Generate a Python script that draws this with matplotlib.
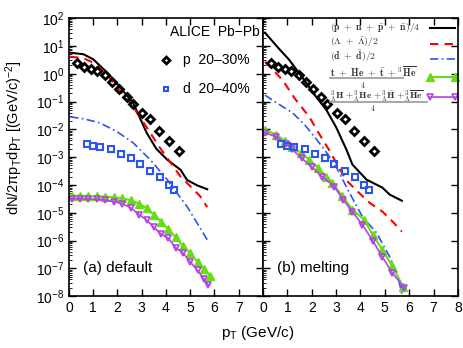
import numpy as np
import matplotlib
matplotlib.use('Agg')
import matplotlib.pyplot as plt
from matplotlib.ticker import LogLocator, NullFormatter, FixedLocator

plt.rcParams['font.family'] = ['Liberation Sans', 'DejaVu Sans']
plt.rcParams['mathtext.fontset'] = 'custom'
plt.rcParams['mathtext.rm'] = 'Liberation Sans'
plt.rcParams['mathtext.it'] = 'Liberation Sans'

# ALICE data (same in both panels)
p_pt = [0.33, 0.62, 0.91, 1.16, 1.49, 1.78, 2.07, 2.40, 2.64, 3.02, 3.35, 3.72, 4.13, 4.55]
p_y = [2.5, 1.8, 1.5, 1.28, 0.92, 0.52, 0.29, 0.15, 0.083, 0.04, 0.024, 0.0089, 0.0039, 0.0017]
d_pt = [0.74, 0.99, 1.28, 1.74, 2.15, 2.56, 2.93, 3.35, 3.76, 4.13, 4.34]
d_y = [3.0e-3, 2.6e-3, 2.4e-3, 1.9e-3, 1.3e-3, 9.5e-4, 5.8e-4, 3.2e-4, 2.0e-4, 1.0e-4, 6.7e-5]

# (a) default model curves
a_nuc_pt = [0.05, 0.6, 1.0, 1.57, 2.1, 2.64, 3.2, 3.6, 4.05, 4.6, 4.87, 5.3, 5.7]
a_nuc_y = [5.7, 5.0, 3.3, 1.1, 0.33, 0.09, 7.6e-3, 2.0e-3, 8.1e-4, 3.5e-4, 1.5e-4, 9.5e-5, 7e-5]
a_lam_pt = [0.05, 0.6, 1.0, 1.57, 2.1, 2.64, 3.2, 3.7, 4.3, 4.6, 5.0, 5.4, 5.7]
a_lam_y = [4.1, 3.6, 2.5, 0.9, 0.25, 0.065, 0.012, 2.5e-3, 4.6e-4, 2.0e-4, 9e-5, 4.0e-5, 1.6e-5]
a_d_pt = [0.05, 0.6, 1.28, 2.0, 2.64, 3.35, 4.05, 4.5, 4.87, 5.3, 5.7]
a_d_y = [0.028, 0.024, 0.017, 8.0e-3, 3.3e-3, 8.1e-4, 1.55e-4, 4.5e-5, 1.66e-5, 4.0e-6, 1.07e-6]
a_t_pt = [0.12, 0.45, 0.8, 1.15, 1.5, 1.85, 2.2, 2.55, 2.9, 3.2, 3.5, 3.8, 4.1, 4.4, 4.7, 5.0, 5.3, 5.55, 5.8]
a_t_y = [4.1e-5, 4.1e-5, 4.0e-5, 3.9e-5, 3.8e-5, 3.6e-5, 3.3e-5, 2.8e-5, 2.1e-5, 1.5e-5, 8.5e-6, 4.8e-6, 2.5e-6, 1.3e-6, 6.2e-7, 3.6e-7, 1.7e-7, 9.5e-8, 5.4e-8]
a_h_pt = [0.12, 0.45, 0.8, 1.15, 1.5, 1.85, 2.2, 2.55, 2.9, 3.2, 3.5, 3.8, 4.1, 4.4, 4.7, 5.0, 5.3, 5.55, 5.75]
a_h_y = [3.2e-5, 3.2e-5, 3.1e-5, 3.0e-5, 2.8e-5, 2.5e-5, 2.1e-5, 1.5e-5, 8.5e-6, 5.4e-6, 3.0e-6, 1.7e-6, 1.2e-6, 5.5e-7, 3.6e-7, 1.7e-7, 8.5e-8, 4.3e-8, 2.5e-8]

# (b) melting model curves
b_nuc_pt = [0.08, 0.6, 1.07, 1.77, 2.2, 2.6, 3.0, 3.42, 3.67, 4.25, 4.5, 4.9, 5.2, 5.7]
b_nuc_y = [30, 9.0, 3.2, 0.48, 0.14, 0.05, 0.012, 1.9e-3, 5.4e-4, 1.55e-4, 1.2e-4, 8.0e-5, 4.5e-5, 2.7e-5]
b_lam_pt = [0.08, 0.8, 1.3, 1.9, 2.3, 2.7, 3.1, 3.4, 3.8, 4.37, 4.9, 5.3, 5.7]
b_lam_y = [2.7, 0.6, 0.13, 0.028, 7.0e-3, 1.9e-3, 4.5e-4, 1.55e-4, 6.8e-5, 2.3e-5, 1.1e-5, 5.0e-6, 2.1e-6]
b_d_pt = [0.08, 0.6, 1.2, 1.7, 2.2, 2.6, 3.0, 3.55, 4.08, 4.66, 5.2, 5.5, 5.7]
b_d_y = [0.17, 0.085, 0.04, 0.015, 4.3e-3, 1.5e-3, 4.5e-4, 5.2e-5, 7.2e-6, 1.9e-6, 2.6e-7, 7e-8, 1.2e-8]
b_t_pt = [0.08, 0.54, 0.9, 1.2, 1.55, 1.9, 2.25, 2.6, 2.85, 3.25, 3.67, 4.16, 4.5, 4.9, 5.3, 5.75]
b_t_y = [9.7e-3, 6.5e-3, 3.8e-3, 2.3e-3, 1.4e-3, 8.1e-4, 4.2e-4, 2.0e-4, 1.2e-4, 4.0e-5, 1.3e-5, 5.6e-6, 1.6e-6, 4.7e-7, 1.2e-7, 2.2e-8]
b_h_pt = [0.08, 0.54, 0.95, 1.2, 1.6, 2.0, 2.43, 2.93, 3.3, 3.67, 4.08, 4.5, 4.9, 5.3, 5.8]
b_h_y = [7.6e-3, 5.4e-3, 3.0e-3, 1.9e-3, 9.0e-4, 4.5e-4, 2.0e-4, 8.7e-5, 2.8e-5, 1.1e-5, 3.7e-6, 1.0e-6, 2.6e-7, 7.0e-8, 2.0e-8]

models = {
    'a': (a_nuc_pt, a_nuc_y, a_lam_pt, a_lam_y, a_d_pt, a_d_y, a_t_pt, a_t_y, a_h_pt, a_h_y),
    'b': (b_nuc_pt, b_nuc_y, b_lam_pt, b_lam_y, b_d_pt, b_d_y, b_t_pt, b_t_y, b_h_pt, b_h_y),
}
panel_text = {'a': '(a) default', 'b': '(b) melting'}

green = '#66dd11'
purple = '#b444e8'
blue = '#2a55f0'

styles = [
    dict(color='black', lw=1.5),
    dict(color='red', lw=1.5, ls=(0, (4, 3))),
    dict(color=blue, lw=1.2, ls=(0, (5, 2, 1, 2))),
    dict(color=green, lw=1.5, marker='^', ms=5.5, mfc=green, mec=green),
    dict(color=purple, lw=1.2, marker='v', ms=5, mfc='none', mec=purple, mew=1.2),
]

fig = plt.figure(figsize=(4.63, 3.48), dpi=100)
ax_a = fig.add_axes([0.149, 0.149, 0.419, 0.799])
ax_b = fig.add_axes([0.568, 0.149, 0.421, 0.799])

for key, ax in (('a', ax_a), ('b', ax_b)):
    c = models[key]
    for i in range(5):
        ax.plot(c[2 * i], c[2 * i + 1], **styles[i])
    ax.plot(p_pt, p_y, ls='none', marker='D', ms=4.5, mfc='none', mec='black', mew=2)
    ax.plot(d_pt, d_y, ls='none', marker='s', ms=4.5, mfc='none', mec=blue, mew=1.5)

    ax.set_yscale('log')
    ax.set_xlim(0, 8)
    ax.set_ylim(1e-8, 1e2)
    ax.xaxis.set_major_locator(FixedLocator(range(0, 9)))
    ax.yaxis.set_major_locator(LogLocator(base=10, numticks=20))
    ax.yaxis.set_minor_locator(LogLocator(base=10, subs=np.arange(2, 10), numticks=20))
    ax.yaxis.set_minor_formatter(NullFormatter())
    ax.tick_params(which='major', direction='in', length=5, width=1, top=True, right=True, labelsize=10)
    ax.tick_params(which='minor', direction='in', length=2.5, width=0.6, right=False)
    for s in ax.spines.values():
        s.set_linewidth(1.2)
    ax.text(0.072, 0.10, panel_text[key], transform=ax.transAxes, va='center', fontsize=11)

ax_b.set_yticklabels([])
ax_a.set_xticklabels([str(i) for i in range(0, 8)] + [''])

# legend for ALICE data in panel (a)
ax_a.text(0.52, 0.95, 'ALICE  Pb\u2212Pb', transform=ax_a.transAxes, va='center', fontsize=10)
ax_a.plot([0.5], [0.849], transform=ax_a.transAxes, marker='D', ms=3.5, mfc='none', mec='black', mew=2)
ax_a.text(0.588, 0.849, 'p  20\u201330%', transform=ax_a.transAxes, va='center', fontsize=10)
ax_a.plot([0.5], [0.745], transform=ax_a.transAxes, marker='s', ms=3.5, mfc='none', mec=blue, mew=1.5)
ax_a.text(0.588, 0.745, 'd  20\u201340%', transform=ax_a.transAxes, va='center', fontsize=10)


# legend for model curves in panel (b), placed in pixel rows of the panel
def ya(py):
    return (296 - py) / 278


tcol = '#333333'
tx0 = 0.344
tkw = dict(transform=ax_b.transAxes, fontsize=7, math_fontfamily='cm', color=tcol)
fkw = dict(transform=ax_b.transAxes, fontsize=5.5, math_fontfamily='cm', color=tcol, ha='center', va='top')
ax_b.text(tx0, ya(27), r'$\mathbf{(p\ +\ n\ +\ \bar{p}\ +\ \bar{n})/4}$', va='center', **tkw)
ax_b.text(tx0, ya(42), r'$\mathbf{(\Lambda\ +\ \bar{\Lambda})/2}$', va='center', **tkw)
ax_b.text(tx0, ya(56.5), r'$\mathbf{(d\ +\ \bar{d})/2}$', va='center', **tkw)
ax_b.text(tx0, ya(76), r'$\mathbf{t\ +\ He\ +\ \bar{t}\ +{}^3\,\overline{He}}$', va='baseline', **tkw)
ax_b.plot([tx0, 0.718], [ya(78), ya(78)], transform=ax_b.transAxes, color='#999999', lw=1.2)
ax_b.text(0.513, ya(79.5), r'$\mathbf{4}$', **fkw)
ax_b.text(tx0, ya(99.5),
          r'${}^3_\Lambda\mathbf{H}\ \mathbf{+}{}^3_\Lambda\mathbf{He}\ \mathbf{+}{}^3_\Lambda\mathbf{\bar{H}}\ \mathbf{+}{}^3_\Lambda\mathbf{\overline{He}}$',
          va='baseline', **dict(tkw, fontsize=6.8))
ax_b.plot([tx0, 0.841], [ya(101.5), ya(101.5)], transform=ax_b.transAxes, color='#999999', lw=1.2)
ax_b.text(0.564, ya(103), r'$\mathbf{4}$', **fkw)

sample_y = [ya(28), ya(44), ya(59), ya(77), ya(97)]
for yy, st in zip(sample_y, styles):
    st = dict(st)
    if 'marker' in st:
        st['markevery'] = [0, 1]
    ax_b.plot([0.856, 0.985], [yy, yy], transform=ax_b.transAxes, clip_on=False, **st)

fig.text(0.557, 0.043, r'p$_\mathregular{T}$ (GeV/c)', ha='center', va='center', fontsize=11)
fig.text(0.03, 0.605, r'dN/2$\pi$p$_\mathregular{T}$dp$_\mathregular{T}$ [(GeV/c)$^{-2}$]',
         rotation=90, ha='center', va='center', fontsize=10.5)

fig.savefig('out.png', dpi=100)
